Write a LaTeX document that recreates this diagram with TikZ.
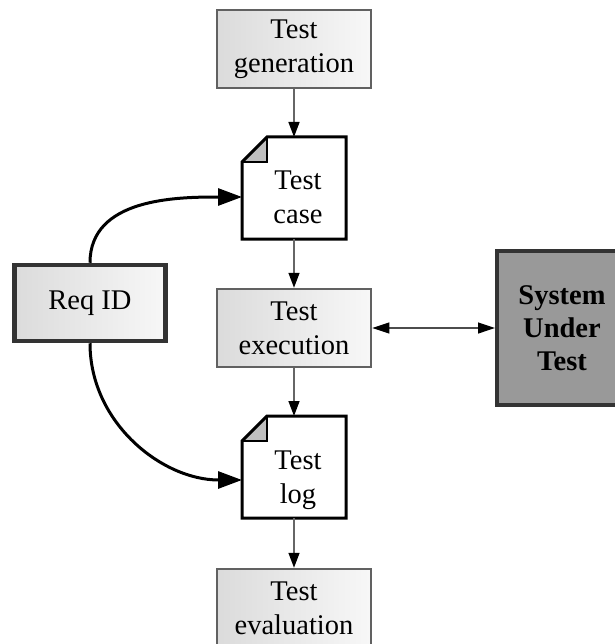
\documentclass[tikz,border=0pt]{standalone}
\usepackage{fontspec}
\setmainfont{Liberation Serif}
\usetikzlibrary{arrows.meta, positioning}

\begin{document}
\begin{tikzpicture}[x=1pt, y=1pt,
  every node/.style={font=\fontsize{28.5}{34}\selectfont, align=center},
  stepbox/.style={draw=black!62, line width=2.5pt, left color=black!14, right color=black!3,
    minimum width=154pt, minimum height=78pt, inner sep=0pt},
  docbox/.style={minimum width=104pt, minimum height=102pt, inner sep=0pt, outer sep=0pt},
  flow/.style={draw=black!60, line width=1.5pt, -{Triangle[length=15pt, width=11pt, black]}},
  reqarrow/.style={line width=3pt, -{Triangle[length=24pt, width=17pt]}}]
\useasboundingbox (0,0) rectangle (614,-644);
% Test generation
\node[stepbox] (gen) at (294,-49) {Test\\generation};
% Test case document
\node[docbox] (case) at (294,-188) {};
\node (casetxt) at (298,-197) {Test\\case};
\fill[black!25] ([xshift=25pt]case.north west) -- ([yshift=-25pt]case.north west)
   -- ([shift={(25pt,-25pt)}]case.north west) -- cycle;
\draw[line width=3pt, line join=miter] ([xshift=25pt]case.north west) -- (case.north east)
   -- (case.south east) -- (case.south west) -- ([yshift=-25pt]case.north west) -- cycle;
\draw[line width=2pt] ([yshift=-25pt]case.north west) -- ([shift={(25pt,-25pt)}]case.north west)
   -- ([xshift=25pt]case.north west);
% Test execution
\node[stepbox] (exec) at (294,-328) {Test\\execution};
% Test log document
\node[docbox] (log) at (294,-467) {};
\node (logtxt) at (298,-480) {Test\\log};
\fill[black!25] ([xshift=25pt]log.north west) -- ([yshift=-25pt]log.north west)
   -- ([shift={(25pt,-25pt)}]log.north west) -- cycle;
\draw[line width=3pt, line join=miter] ([xshift=25pt]log.north west) -- (log.north east)
   -- (log.south east) -- (log.south west) -- ([yshift=-25pt]log.north west) -- cycle;
\draw[line width=2pt] ([yshift=-25pt]log.north west) -- ([shift={(25pt,-25pt)}]log.north west)
   -- ([xshift=25pt]log.north west);
% Test evaluation (cut by the lower edge)
\node[stepbox] (eval) at (294,-608) {Test\\evaluation};
% Requirement ID
\node[stepbox, draw=black!80, line width=4.5pt, minimum width=151pt, minimum height=76pt]
   (req) at (90,-303) {Req ID};
% System under test (cut by the right edge)
\node[draw=black!80, line width=4pt, fill=black!40, minimum width=130pt, minimum height=154pt,
   inner sep=0pt, font=\fontsize{28.5}{33}\selectfont\bfseries] (sut) at (562,-328) {System\\Under\\Test};
% Flow
\draw[flow] (gen) -- (case);
\draw[flow] (case) -- (exec);
\draw[flow] (exec) -- (log);
\draw[flow] (log) -- (eval);
\draw[flow, draw=black!70, line width=1.2pt,
   {Triangle[length=17pt, width=11pt, black]}-{Triangle[length=17pt, width=11pt, black]}]
   (exec) -- (sut);
% Requirement links
\draw[reqarrow] (req.north) to[out=90, in=180] (case.west |- casetxt);
\draw[reqarrow] (req.south) to[out=-90, in=180] (log.west |- logtxt);
\end{tikzpicture}
\end{document}
